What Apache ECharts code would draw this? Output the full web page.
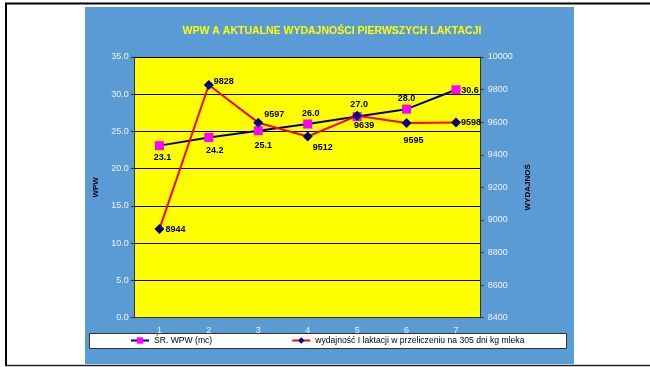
<!DOCTYPE html>
<html>
<head>
<meta charset="utf-8">
<style>
  html, body { margin: 0; padding: 0; background: #ffffff; }
  #chart { width: 650px; height: 367px; }
</style>
<script src="https://cdn.jsdelivr.net/npm/echarts@6/dist/echarts.min.js"></script>
</head>
<body>
<div id="chart"></div>
<script>
// Lactation number
var categories = ['1', '2', '3', '4', '5', '6', '7'];
// Average WPW (left axis)
var wpwValues = [23.1, 24.2, 25.1, 26.0, 27.0, 28.0, 30.6];
// First-lactation yield, 305-day kg milk (right axis)
var yieldValues = [8944, 9828, 9597, 9512, 9639, 9595, 9598];

var wpwName = 'ŚR. WPW (mc)';
var yieldName = 'wydajność I laktacji w przeliczeniu na 305 dni kg mleka';

// Label offsets from each marker centre, in pixels
var wpwLabelOffsets = [[3, 12], [6, 13], [5, 15], [3, -11], [2, -12], [0, -11], [14, 1]];
var yieldLabelOffsets = [[16, 0], [15, -4], [16, -8], [15, 11], [7, 10], [7, 18], [15, 0]];

var fontFamily = 'Liberation Sans, Arial, sans-serif';
var labelFont = { color: '#000', fontSize: 9, fontWeight: 'bold', fontFamily: fontFamily };

function withLabels(values, offsets, fmt) {
  return values.map(function (v, i) {
    return {
      value: v,
      label: Object.assign({
        show: true,
        position: 'inside',
        offset: offsets[i],
        formatter: fmt(v)
      }, labelFont)
    };
  });
}

var chart = echarts.init(document.getElementById('chart'), null, { renderer: 'canvas' });

var axisTextColor = '#eef3fa';
var axisLineColor = '#333333';

chart.setOption({
  backgroundColor: '#ffffff',
  animation: false,
  textStyle: { fontFamily: fontFamily },
  title: {
    text: 'WPW A AKTUALNE WYDAJNOŚCI PIERWSZYCH LAKTACJI',
    left: 327,
    textAlign: 'center',
    top: 21,
    textStyle: { color: '#ffff00', fontSize: 10.5, fontWeight: 'bold', fontFamily: fontFamily }
  },
  graphic: [
    { type: 'rect', z: -10, shape: { x: 85, y: 7, width: 489, height: 357 }, style: { fill: '#5b9bd5' } },
    { type: 'line', z: -10, shape: { x1: 5, y1: 3.5, x2: 650, y2: 3.5 }, style: { stroke: '#000', lineWidth: 2 } },
    { type: 'line', z: -10, shape: { x1: 6, y1: 3, x2: 6, y2: 366 }, style: { stroke: '#000', lineWidth: 2 } },
    { type: 'line', z: -10, shape: { x1: 5, y1: 365.5, x2: 650, y2: 365.5 }, style: { stroke: '#222', lineWidth: 1.5 } },
    { type: 'rect', z: -5, shape: { x: 89.5, y: 333.5, width: 477, height: 15 }, style: { fill: '#ffffff', stroke: '#333', lineWidth: 1 } }
  ],
  legend: {
    left: 130,
    top: 336,
    itemWidth: 18,
    itemHeight: 8,
    itemGap: 79,
    padding: 0,
    textStyle: { color: '#000', fontSize: 8.6, fontFamily: fontFamily },
    data: [wpwName, yieldName]
  },
  grid: {
    left: 134.7,
    right: 169.3,
    top: 57,
    bottom: 49.3,
    show: true,
    backgroundColor: '#ffff00',
    borderWidth: 0
  },
  xAxis: {
    type: 'category',
    data: categories,
    boundaryGap: true,
    axisLine: { lineStyle: { color: axisLineColor, width: 1 } },
    axisTick: { inside: true, length: 4, lineStyle: { color: axisLineColor } },
    axisLabel: { color: axisTextColor, fontSize: 9, margin: 8 }
  },
  yAxis: [
    {
      type: 'value',
      min: 0,
      max: 35,
      interval: 5,
      position: 'left',
      name: 'WPW',
      nameLocation: 'middle',
      nameGap: 34,
      nameRotate: 90,
      nameTextStyle: { color: '#000', fontSize: 8, fontWeight: 'bold' },
      axisLine: { show: true, lineStyle: { color: axisLineColor, width: 1 } },
      axisTick: { show: true, length: 4, lineStyle: { color: axisLineColor } },
      axisLabel: { color: axisTextColor, fontSize: 9, margin: 6, formatter: function (v) { return v.toFixed(1); } },
      splitLine: { show: true, lineStyle: { color: '#000', width: 1 } }
    },
    {
      type: 'value',
      min: 8400,
      max: 10000,
      interval: 200,
      position: 'right',
      name: 'WYDAJNOŚ',
      nameLocation: 'middle',
      nameGap: 34,
      nameRotate: 90,
      nameTextStyle: { color: '#000', fontSize: 8, fontWeight: 'bold' },
      axisLine: { show: true, lineStyle: { color: axisLineColor, width: 1 } },
      axisTick: { show: true, length: 3, lineStyle: { color: axisLineColor } },
      axisLabel: { color: axisTextColor, fontSize: 9, margin: 7, formatter: function (v) { return String(v); } },
      splitLine: { show: false }
    }
  ],
  series: [
    {
      name: wpwName,
      type: 'line',
      yAxisIndex: 0,
      data: withLabels(wpwValues, wpwLabelOffsets, function (v) { return v.toFixed(1); }),
      symbol: 'rect',
      symbolSize: 9,
      itemStyle: { color: '#ff00ff' },
      lineStyle: { color: '#000080', width: 2 },
      z: 3
    },
    {
      name: yieldName,
      type: 'line',
      yAxisIndex: 1,
      data: withLabels(yieldValues, yieldLabelOffsets, function (v) { return String(v); }),
      symbol: 'diamond',
      symbolSize: 10,
      itemStyle: { color: '#000080' },
      lineStyle: { color: '#ff0000', width: 2 },
      z: 4
    }
  ]
});
</script>
</body>
</html>
